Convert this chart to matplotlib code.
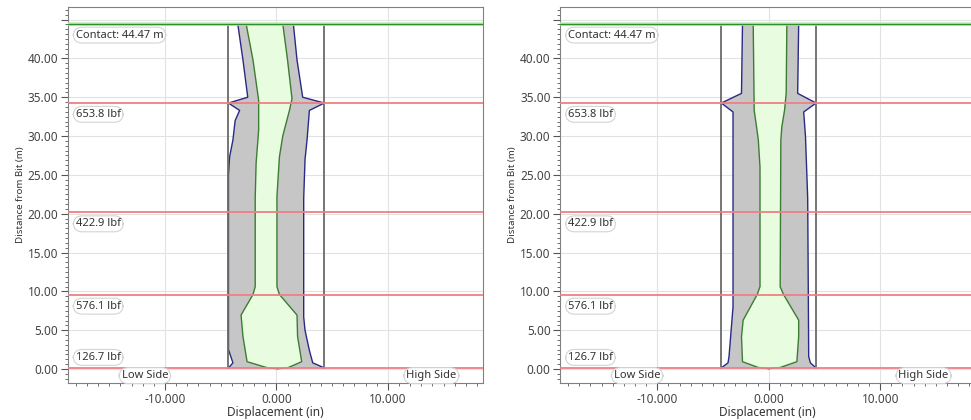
import matplotlib
matplotlib.use("Agg")
import matplotlib.pyplot as plt
import numpy as np
from matplotlib.ticker import MultipleLocator

plt.rcParams["font.family"] = ["Noto Sans", "DejaVu Sans"]

# --- dados ---
contato = 44.47
forcas_y = [0.1, 9.6, 20.2, 34.25]
forcas_txt = ["126.7 lbf", "576.1 lbf", "422.9 lbf", "653.8 lbf"]
forcas_label_y = [1.5, 8.1, 18.7, 32.8]

# painel esquerdo
raio_poco_a = 4.3
azul_esq_a_y = [44.47, 39.8, 35.0, 34.25, 33.3, 32.0, 29.5, 27.3, 25.0, 2.5, 0.8, 0.15]
azul_esq_a_x = [-3.47, -3.0, -2.57, -4.3, -3.3, -3.7, -3.9, -4.2, -4.3, -4.3, -3.9, -4.3]
azul_dir_a_y = [44.47, 39.8, 35.0, 34.25, 33.3, 29.5, 27.0, 22.0, 6.7, 5.0, 2.4, 0.8, 0.15]
azul_dir_a_x = [1.52, 1.85, 2.36, 4.3, 2.96, 2.75, 2.57, 2.45, 2.45, 2.57, 2.96, 3.26, 4.3]
verde_esq_a_y = [44.47, 39.8, 34.6, 30.8, 26.5, 22.0, 10.6, 9.6, 6.95, 4.2, 0.95, 0.15, 0.05]
verde_esq_a_x = [-2.72, -2.1, -1.59, -1.59, -1.82, -1.9, -1.9, -2.1, -3.17, -3.0, -2.63, -0.78, 0.1]
verde_dir_a_y = [44.47, 39.8, 34.8, 33.3, 30.0, 27.3, 22.2, 10.6, 9.6, 6.95, 4.2, 0.95, 0.15, 0.05]
verde_dir_a_x = [0.57, 1.0, 1.4, 1.17, 0.57, 0.27, 0.05, 0.05, 0.27, 1.85, 1.9, 2.27, 1.0, 0.1]

# painel direito
raio_poco_b = 4.25
azul_esq_b_y = [44.47, 35.5, 34.25, 33.1, 8.0, 1.6, 0.8, 0.15]
azul_esq_b_x = [-2.35, -2.44, -4.25, -3.2, -3.2, -3.56, -3.65, -4.25]
azul_dir_b_y = [44.47, 35.5, 34.25, 33.1, 30.0, 22.0, 1.6, 0.8, 0.15]
azul_dir_b_x = [2.69, 2.6, 4.25, 3.14, 3.3, 3.5, 3.59, 3.74, 4.25]
verde_esq_b_y = [44.47, 33.3, 31.2, 29.5, 26.0, 10.6, 9.6, 6.3, 4.2, 0.95, 0.2, 0.05]
verde_esq_b_x = [-1.39, -1.3, -1.09, -0.93, -0.78, -0.78, -1.03, -2.29, -2.44, -2.35, -0.93, 0.0]
verde_dir_b_y = [44.47, 35.5, 33.3, 31.2, 29.5, 10.6, 9.6, 6.3, 4.2, 0.95, 0.2, 0.05]
verde_dir_b_x = [1.63, 1.57, 1.42, 1.18, 1.09, 1.03, 1.33, 2.69, 2.69, 2.53, 1.03, 0.0]

y_ticks = [0, 5, 10, 15, 20, 25, 30, 35, 40, 45]
y_tick_labels = ["0.00", "5.00", "10.00", "15.00", "20.00", "25.00",
                 "30.00", "35.00", "40.00", ""]
x_ticks = [-10, 0, 10]
x_tick_labels = ["-10.000", "0.000", "10.000"]


def caixa(ax, x, y, texto, ha="left"):
    ax.text(x, y, texto, ha=ha, va="center", fontsize=8, color="#333333",
            bbox=dict(boxstyle="round,pad=0.22,rounding_size=0.8",
                      fc="white", ec="#d4d4d4", lw=0.8), zorder=6)


def painel(ax, raio, ae_x, ae_y, ad_x, ad_y, ve_x, ve_y, vd_x, vd_y):
    ax.set_xlim(-18.7, 18.5)
    ax.set_ylim(-1.8, 46.6)

    ax.set_xticks(x_ticks)
    ax.set_xticklabels(x_tick_labels)
    ax.set_yticks(y_ticks)
    ax.set_yticklabels(y_tick_labels)
    ax.xaxis.set_minor_locator(MultipleLocator(1))
    ax.yaxis.set_minor_locator(MultipleLocator(0.625))
    ax.tick_params(which="major", length=5, width=0.8, color="#555555",
                   labelsize=8.5, labelcolor="#444444", pad=2)
    ax.tick_params(which="minor", length=2.5, width=0.6, color="#555555")
    ax.grid(True, which="major", color="#e2e2e2", lw=0.8)
    ax.set_axisbelow(True)
    for s in ax.spines.values():
        s.set_color("#808080")
        s.set_linewidth(0.8)

    # area cinza (deslocamento externo)
    ax.fill(np.concatenate([ae_x, ad_x[::-1]]),
            np.concatenate([ae_y, ad_y[::-1]]),
            color="#c6c6c6", lw=0, zorder=2)
    # area verde clara (interna)
    ax.fill(np.concatenate([ve_x, vd_x[::-1]]),
            np.concatenate([ve_y, vd_y[::-1]]),
            color="#e8fde0", lw=0, zorder=3)
    ax.plot(ae_x, ae_y, color="#2a2a86", lw=1.0, zorder=4)
    ax.plot(ad_x, ad_y, color="#2a2a86", lw=1.0, zorder=4)
    ax.plot(ve_x, ve_y, color="#3c7d32", lw=1.0, zorder=4)
    ax.plot(vd_x, vd_y, color="#3c7d32", lw=1.0, zorder=4)

    # parede do poco
    ax.plot([-raio, -raio], [forcas_y[0], contato], color="#6a6a6a", lw=1.3, zorder=4)
    ax.plot([raio, raio], [forcas_y[0], contato], color="#6a6a6a", lw=1.3, zorder=4)

    for y in forcas_y:
        ax.axhline(y, color="#ef7f86", lw=1.3, zorder=5)
    ax.axhline(contato, color="#c4ecbc", lw=2.6, zorder=5)
    ax.axhline(contato, color="#2f8f2f", lw=1.0, zorder=5)

    caixa(ax, -18.0, 43.0, "Contact: 44.47 m")
    for yl, txt in zip(forcas_label_y, forcas_txt):
        caixa(ax, -18.0, yl, txt)
    caixa(ax, -11.8, -0.85, "Low Side", ha="center")
    caixa(ax, 13.9, -0.85, "High Side", ha="center")

    ax.set_xlabel("Displacement (in)", fontsize=8.5, color="#333333", labelpad=0)
    ax.set_ylabel("Distance from Bit (m)", fontsize=7, color="#333333", labelpad=2)


fig = plt.figure(figsize=(9.71, 4.2), dpi=100)
ax1 = fig.add_axes([0.070, 0.088, 0.427, 0.895])
ax2 = fig.add_axes([0.577, 0.088, 0.427, 0.895])

painel(ax1, raio_poco_a,
       np.array(azul_esq_a_x), np.array(azul_esq_a_y),
       np.array(azul_dir_a_x), np.array(azul_dir_a_y),
       np.array(verde_esq_a_x), np.array(verde_esq_a_y),
       np.array(verde_dir_a_x), np.array(verde_dir_a_y))
painel(ax2, raio_poco_b,
       np.array(azul_esq_b_x), np.array(azul_esq_b_y),
       np.array(azul_dir_b_x), np.array(azul_dir_b_y),
       np.array(verde_esq_b_x), np.array(verde_esq_b_y),
       np.array(verde_dir_b_x), np.array(verde_dir_b_y))

fig.savefig("out.png", dpi=100)
plt.close(fig)
